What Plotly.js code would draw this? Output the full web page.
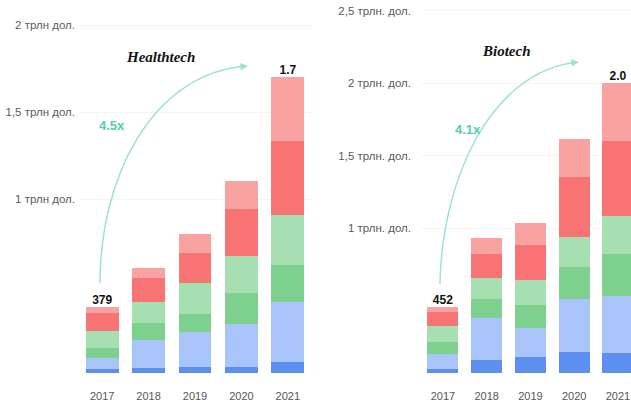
<!DOCTYPE html>
<html>
<head>
<meta charset="utf-8">
<script src="https://cdn.plot.ly/plotly-3.0.1.min.js"></script>
<style>html,body{margin:0;padding:0;background:#fff;}#chart{width:631px;height:406px;}</style>
</head>
<body>
<div id="chart"></div>
<script>
// Categories
const years = ['2017', '2018', '2019', '2020', '2021'];

// Healthtech, billion USD (six stacked segments, bottom to top)
const health1 = [25, 29, 35, 35, 63];
const health2 = [63, 161, 201, 247, 345];
const health3 = [57, 98, 104, 178, 213];
const health4 = [98, 121, 178, 213, 288];
const health5 = [104, 138, 173, 270, 423];
const health6 = [32, 58, 109, 161, 368];

// Biotech, billion USD
const bio1 = [29, 90, 110, 145, 138];
const bio2 = [104, 290, 200, 366, 393];
const bio3 = [78, 131, 159, 221, 290];
const bio4 = [110, 145, 173, 207, 262];
const bio5 = [98, 166, 242, 414, 517];
const bio6 = [33, 110, 152, 262, 400];

// Axis tick labels
const healthTickVals = [1000, 1500, 2000];
const healthTickText = ['1 трлн дол.', '1,5 трлн дол.', '2 трлн дол.'];
const bioTickVals = [1000, 1500, 2000, 2500];
const bioTickText = ['1 трлн. дол.', '1,5 трлн. дол.', '2 трлн. дол.', '2,5 трлн. дол.'];

// Value labels
const healthLabels = ['379', '1.7'];
const bioLabels = ['452', '2.0'];
const healthGrowth = '4.5x';
const bioGrowth = '4.1x';

const colors = ['#5d8ff0', '#a9c4f8', '#7ed08f', '#a6dfb1', '#f87373', '#f9a2a2'];

const healthSeries = [health1, health2, health3, health4, health5, health6];
const bioSeries = [bio1, bio2, bio3, bio4, bio5, bio6];
const total = (series, k) => series.reduce((a, s) => a + s[k], 0);

const labelFont = {family: 'Liberation Sans, Arial, sans-serif', size: 12, color: '#111', weight: 'bold'};

const traces = [];
healthSeries.forEach((s, i) => traces.push({
  type: 'bar', x: years, y: s, xaxis: 'x', yaxis: 'y',
  marker: {color: colors[i]}, hoverinfo: 'y'
}));
bioSeries.forEach((s, i) => traces.push({
  type: 'bar', x: years, y: s, xaxis: 'x2', yaxis: 'y2',
  marker: {color: colors[i]}, hoverinfo: 'y'
}));
traces.push({
  type: 'scatter', mode: 'text', xaxis: 'x', yaxis: 'y',
  x: [years[0], years[4]], y: [total(healthSeries, 0), total(healthSeries, 4)],
  text: healthLabels.map(t => '<b>' + t + '</b>'), textposition: 'top center', textfont: labelFont, cliponaxis: false
});
traces.push({
  type: 'scatter', mode: 'text', xaxis: 'x2', yaxis: 'y2',
  x: [years[0], years[4]], y: [total(bioSeries, 0), total(bioSeries, 4)],
  text: bioLabels.map(t => '<b>' + t + '</b>'), textposition: 'top center', textfont: labelFont, cliponaxis: false
});

const W = 631, TOP = 5, BASE = 373;
const P = (px, py) => [px / W, (BASE - py) / (BASE - TOP)];
const pathStr = (pts) => {
  const p = pts.map(q => P(q[0], q[1]));
  return `M ${p[0][0]},${p[0][1]} C ${p[1][0]},${p[1][1]} ${p[2][0]},${p[2][1]} ${p[3][0]},${p[3][1]}`;
};
const arcColor = '#9fe3cf';
const tickFontX = {family: 'Liberation Sans, Arial, sans-serif', size: 11, color: '#555'};
const tickFontY = {family: 'Liberation Sans, Arial, sans-serif', size: 11.5, color: '#5a5a5a'};
const titleFont = {family: 'Liberation Serif, Times New Roman, serif', size: 15, color: '#111'};
const growthFont = {family: 'Liberation Sans, Arial, sans-serif', size: 13, color: '#4fd3a8'};

const ann = (px, py, text, font) => ({
  xref: 'paper', yref: 'paper', x: P(px, py)[0], y: P(px, py)[1], text: text, showarrow: false,
  xanchor: 'center', yanchor: 'middle', font: font
});

const layout = {
  width: 631, height: 406,
  margin: {l: 0, r: 0, t: TOP, b: 406 - BASE},
  paper_bgcolor: '#fff', plot_bgcolor: 'rgba(0,0,0,0)',
  barmode: 'stack', bargap: 0.29, showlegend: false,
  xaxis: {type: 'category', domain: [79 / W, 311 / W], range: [-0.5, 4.5], anchor: 'y',
          showline: false, ticks: '', tickfont: tickFontX, ticklabelstandoff: 15, showgrid: false},
  yaxis: {domain: [0, 1], range: [0, 2115], anchor: 'x', tickvals: healthTickVals, ticktext: healthTickText,
          showgrid: true, gridcolor: '#f5f5f5', zeroline: false, showline: false, ticks: '',
          tickfont: tickFontY, ticklabelstandoff: 3},
  xaxis2: {type: 'category', domain: [421 / W, 1], range: [-0.5, 4.3], anchor: 'y2',
           showline: false, ticks: '', tickfont: tickFontX, ticklabelstandoff: 15, showgrid: false},
  yaxis2: {domain: [0, 1], range: [0, 2538], anchor: 'x2', tickvals: bioTickVals, ticktext: bioTickText,
           showgrid: true, gridcolor: '#f5f5f5', zeroline: false, showline: false, ticks: '',
           tickfont: tickFontY, ticklabelstandoff: 9},
  shapes: [
    {type: 'path', xref: 'paper', yref: 'paper', path: pathStr([[100, 283], [100, 180], [150, 74], [246, 66]]),
     line: {color: arcColor, width: 1.5}},
    {type: 'path', xref: 'paper', yref: 'paper', path: pathStr([[440, 284], [442, 180], [490, 72], [577, 62]]),
     line: {color: arcColor, width: 1.5}}
  ],
  annotations: [
    ann(160, 57, '<b><i>Healthtech</i></b>', titleFont),
    ann(506, 51, '<b><i>Biotech</i></b>', titleFont),
    ann(112, 126, '<b>' + healthGrowth + '</b>', growthFont),
    ann(468, 129, '<b>' + bioGrowth + '</b>', growthFont),
    {xref: 'paper', yref: 'paper', x: P(248, 66)[0], y: P(248, 66)[1], text: '', showarrow: true,
     ax: -9, ay: 1, arrowhead: 2, arrowsize: 1, arrowwidth: 1.5, arrowcolor: arcColor},
    {xref: 'paper', yref: 'paper', x: P(579, 62)[0], y: P(579, 62)[1], text: '', showarrow: true,
     ax: -9, ay: 1, arrowhead: 2, arrowsize: 1, arrowwidth: 1.5, arrowcolor: arcColor}
  ]
};

Plotly.newPlot('chart', traces, layout, {displayModeBar: false, staticPlot: true});
</script>
</body>
</html>
